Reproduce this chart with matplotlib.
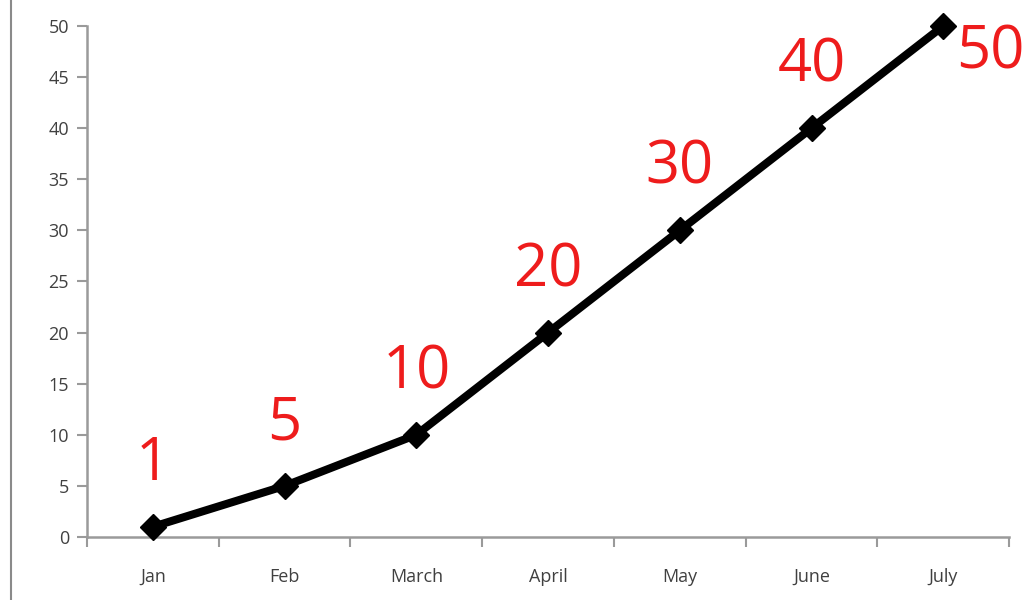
import matplotlib.pyplot as plt
from matplotlib.lines import Line2D

months = ['Jan', 'Feb', 'March', 'April', 'May', 'June', 'July']
values = [1, 5, 10, 20, 30, 40, 50]
labels = ['1', '5', '10', '20', '30', '40', '50']


def main():
    fig = plt.figure(figsize=(10.35, 6.0), dpi=100)
    ax = fig.add_axes([0.0841, 0.105, 0.8909, 0.8517])

    x = list(range(len(months)))
    ax.plot(x, values, color='black', lw=5.8, marker='D', markersize=13,
            solid_joinstyle='round', solid_capstyle='round', clip_on=False, zorder=3)

    # red data labels, the last one sits to the right of its point
    for i, (v, s) in enumerate(zip(values, labels)):
        if i == len(values) - 1:
            off, ha = (9, -19), 'left'
        else:
            off, ha = (0, 45), 'center'
        ax.annotate(s, (i, v), xytext=off, textcoords='offset points',
                    ha=ha, va='center', color='#ee1c1c', fontsize=43,
                    family=['Open Sans', 'DejaVu Sans'])

    ax.set_xlim(-0.5, len(months) - 0.5)
    ax.set_ylim(0, 50)
    ax.set_yticks(range(0, 51, 5))
    ax.set_xticks(x)
    ax.set_xticklabels(months)
    ax.set_xticks([i - 0.5 for i in range(len(months) + 1)], minor=True)
    ax.tick_params(axis='x', which='major', length=0, pad=22)
    ax.tick_params(axis='x', which='minor', length=7, width=1.5, color='#9a9a9a')
    ax.tick_params(axis='y', length=7, width=1.5, color='#9a9a9a', pad=6)
    for lab in ax.get_xticklabels() + ax.get_yticklabels():
        lab.set_color('#404040')
        lab.set_fontsize(13)
        lab.set_family(['Open Sans', 'DejaVu Sans'])

    for side in ['top', 'right']:
        ax.spines[side].set_visible(False)
    for side in ['left', 'bottom']:
        ax.spines[side].set_color('#9a9a9a')
        ax.spines[side].set_linewidth(1.8)

    # grey frame edge at the far left
    fig.add_artist(Line2D([0.0106, 0.0106], [0, 1], color='#8a8a8a', lw=1.5))

    fig.savefig('out.png', dpi=100)


if __name__ == '__main__':
    main()
